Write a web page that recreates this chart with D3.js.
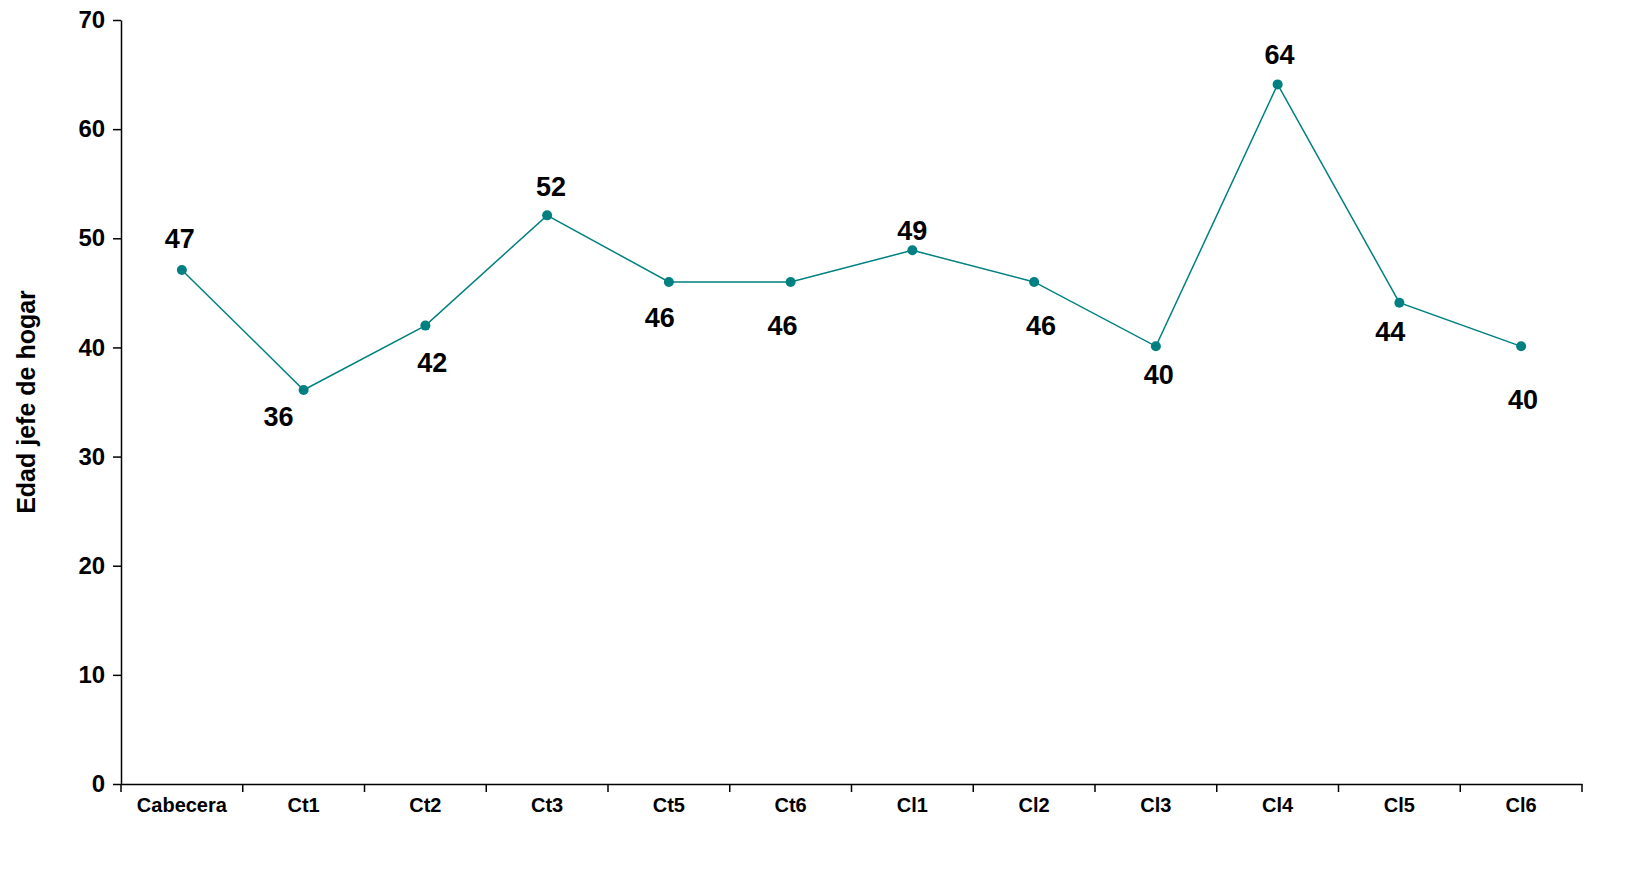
<!DOCTYPE html>
<html><head><meta charset="utf-8">
<script src="https://cdn.jsdelivr.net/npm/d3@7"></script>
<style>body{margin:0;background:#fff}text{font-family:"Liberation Sans",Arial,sans-serif;font-weight:bold}</style>
</head><body><svg width="1650" height="873"></svg>
<script>
var categories = ['Cabecera','Ct1','Ct2','Ct3','Ct5','Ct6','Cl1','Cl2','Cl3','Cl4','Cl5','Cl6'];
var values = [47.1, 36.1, 42.0, 52.1, 46.0, 46.0, 48.9, 46.0, 40.1, 64.1, 44.1, 40.1];
var labels = ['47','36','42','52','46','46','49','46','40','64','44','40'];
// label offsets from the point
var labelDx = [-2, -25, 7, 4, -9, -8, 0, 7, 3, 2, -9, 2];
var labelDy = [-22, 36, 46, -19, 45, 53, -10, 53, 38, -20, 38, 63];
var yTicks = [0,10,20,30,40,50,60,70];

var svg = d3.select('svg');
var x = d3.scaleBand().domain(categories).range([121, 1582]);
var y = d3.scaleLinear().domain([0, 70]).range([784, 20]);

var xAxis = svg.append('g').attr('transform', 'translate(0,784)')
  .call(d3.axisBottom(x).tickSize(0).tickSizeOuter(0));
xAxis.select('.domain').attr('stroke', '#000').attr('stroke-width', 1.5);
xAxis.selectAll('text').attr('font-size', 20).attr('dy', '1.25em').attr('fill', '#000');
var bounds = categories.map(function(c) { return x(c); }).concat([1582]);
xAxis.selectAll('.sep').data(bounds).enter().append('line')
  .attr('x1', function(d) { return d; }).attr('x2', function(d) { return d; })
  .attr('y1', 0).attr('y2', 8).attr('stroke', '#000').attr('stroke-width', 1.5);

var yAxis = svg.append('g').attr('transform', 'translate(121,0)')
  .call(d3.axisLeft(y).tickValues(yTicks).tickSize(8).tickSizeOuter(0));
yAxis.select('.domain').attr('stroke', '#000').attr('stroke-width', 1.5);
yAxis.selectAll('line').attr('stroke-width', 1.5);
yAxis.selectAll('text').attr('font-size', 24).attr('fill', '#000').attr('dx', '-0.2em');

svg.append('text').attr('transform', 'translate(35,402) rotate(-90)')
  .attr('text-anchor', 'middle').attr('font-size', 25).text('Edad jefe de hogar');

var cx = function(i) { return x(categories[i]) + x.bandwidth() / 2; };
svg.append('path').datum(values)
  .attr('d', d3.line().x(function(d, i) { return cx(i); }).y(function(d) { return y(d); }))
  .attr('fill', 'none').attr('stroke', '#008080').attr('stroke-width', 1.5);
svg.selectAll('.pt').data(values).enter().append('circle')
  .attr('cx', function(d, i) { return cx(i); }).attr('cy', function(d) { return y(d); })
  .attr('r', 5).attr('fill', '#008080');
svg.selectAll('.lbl').data(values).enter().append('text')
  .attr('x', function(d, i) { return cx(i) + labelDx[i]; })
  .attr('y', function(d, i) { return y(d) + labelDy[i]; })
  .attr('text-anchor', 'middle').attr('font-size', 27).text(function(d, i) { return labels[i]; });
</script></body></html>
